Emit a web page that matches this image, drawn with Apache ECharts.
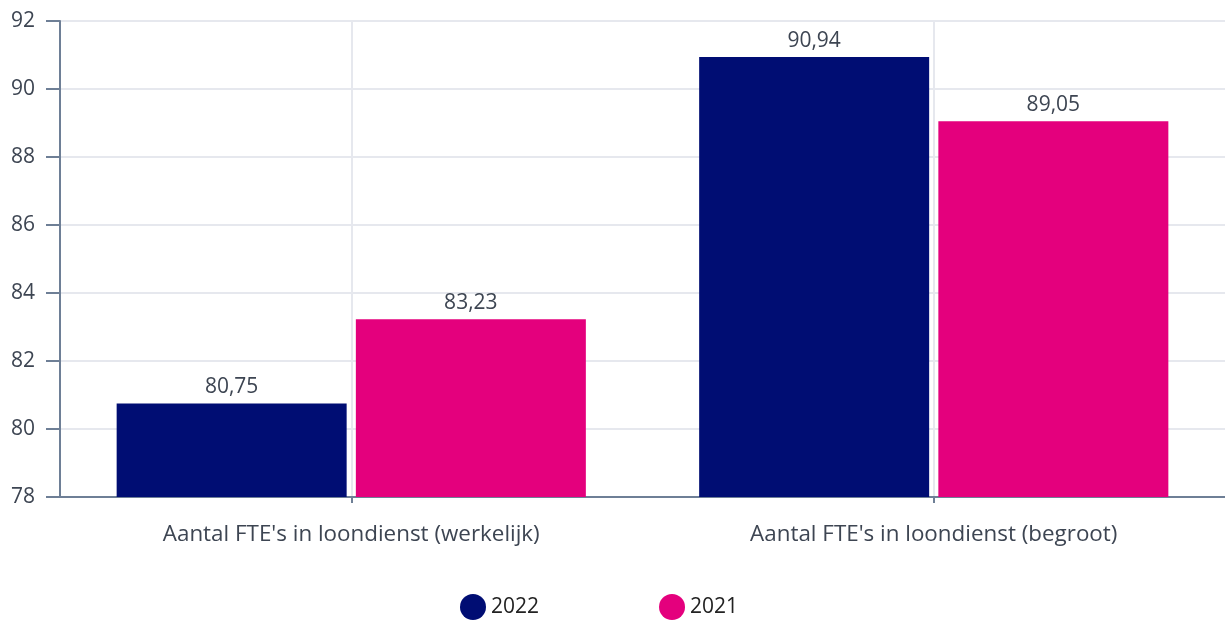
<!DOCTYPE html>
<html>
<head>
<meta charset="utf-8">
<script src="https://cdn.jsdelivr.net/npm/echarts@6/dist/echarts.min.js"></script>
<style>html,body{margin:0;padding:0;background:#fff}#c{width:1225px;height:622px}</style>
</head>
<body>
<div id="c"></div>
<script>
const categories = ["Aantal FTE's in loondienst (werkelijk)", "Aantal FTE's in loondienst (begroot)"];
const seriesNames = ["2022", "2021"];
const values2022 = [80.75, 90.94];
const values2021 = [83.23, 89.05];
const yTicks = { min: 78, max: 92, interval: 2 };

const font = "'Open Sans', 'Noto Sans', sans-serif";
const textColor = '#3d4552';
const axisColor = '#6e7f96';
const fmt = v => v.toFixed(2).replace('.', ',');

const chart = echarts.init(document.getElementById('c'), null, { renderer: 'canvas' });
const labelCfg = {
  show: true, position: 'top', distance: 6, color: textColor, fontFamily: font, fontSize: 21,
  formatter: p => fmt(p.value)
};
chart.setOption({
  animation: false,
  textStyle: { fontFamily: font },
  grid: { left: 60, right: 0, top: 21, bottom: 125, containLabel: false },
  legend: {
    top: 589, left: 455, itemGap: 120, icon: 'circle', itemWidth: 26, itemHeight: 26,
    textStyle: { fontSize: 21, color: '#222', fontFamily: font },
    data: seriesNames
  },
  xAxis: {
    type: 'category', data: categories,
    axisLine: { lineStyle: { color: axisColor, width: 2 } },
    axisTick: { show: true, alignWithLabel: true, length: 6, lineStyle: { color: axisColor, width: 2 } },
    axisLabel: { color: textColor, fontSize: 22.4, fontFamily: font, margin: 27 },
    splitLine: { show: true, alignWithLabel: true, lineStyle: { color: '#e6e8ee', width: 2 } }
  },
  yAxis: {
    type: 'value', min: yTicks.min, max: yTicks.max, interval: yTicks.interval,
    axisLine: { show: true, lineStyle: { color: axisColor, width: 2 } },
    axisTick: { show: true, length: 14, lineStyle: { color: axisColor, width: 2 } },
    axisLabel: { color: textColor, fontSize: 21, fontFamily: font, margin: 25 },
    splitLine: { show: true, lineStyle: { color: '#e6e8ee', width: 2 } }
  },
  series: [
    { name: seriesNames[0], type: 'bar', data: values2022, barWidth: 230, barGap: '4%',
      itemStyle: { color: '#000d73' }, label: labelCfg },
    { name: seriesNames[1], type: 'bar', data: values2021, barWidth: 230, barGap: '4%',
      itemStyle: { color: '#e4007d' }, label: labelCfg }
  ]
});
</script>
</body>
</html>
